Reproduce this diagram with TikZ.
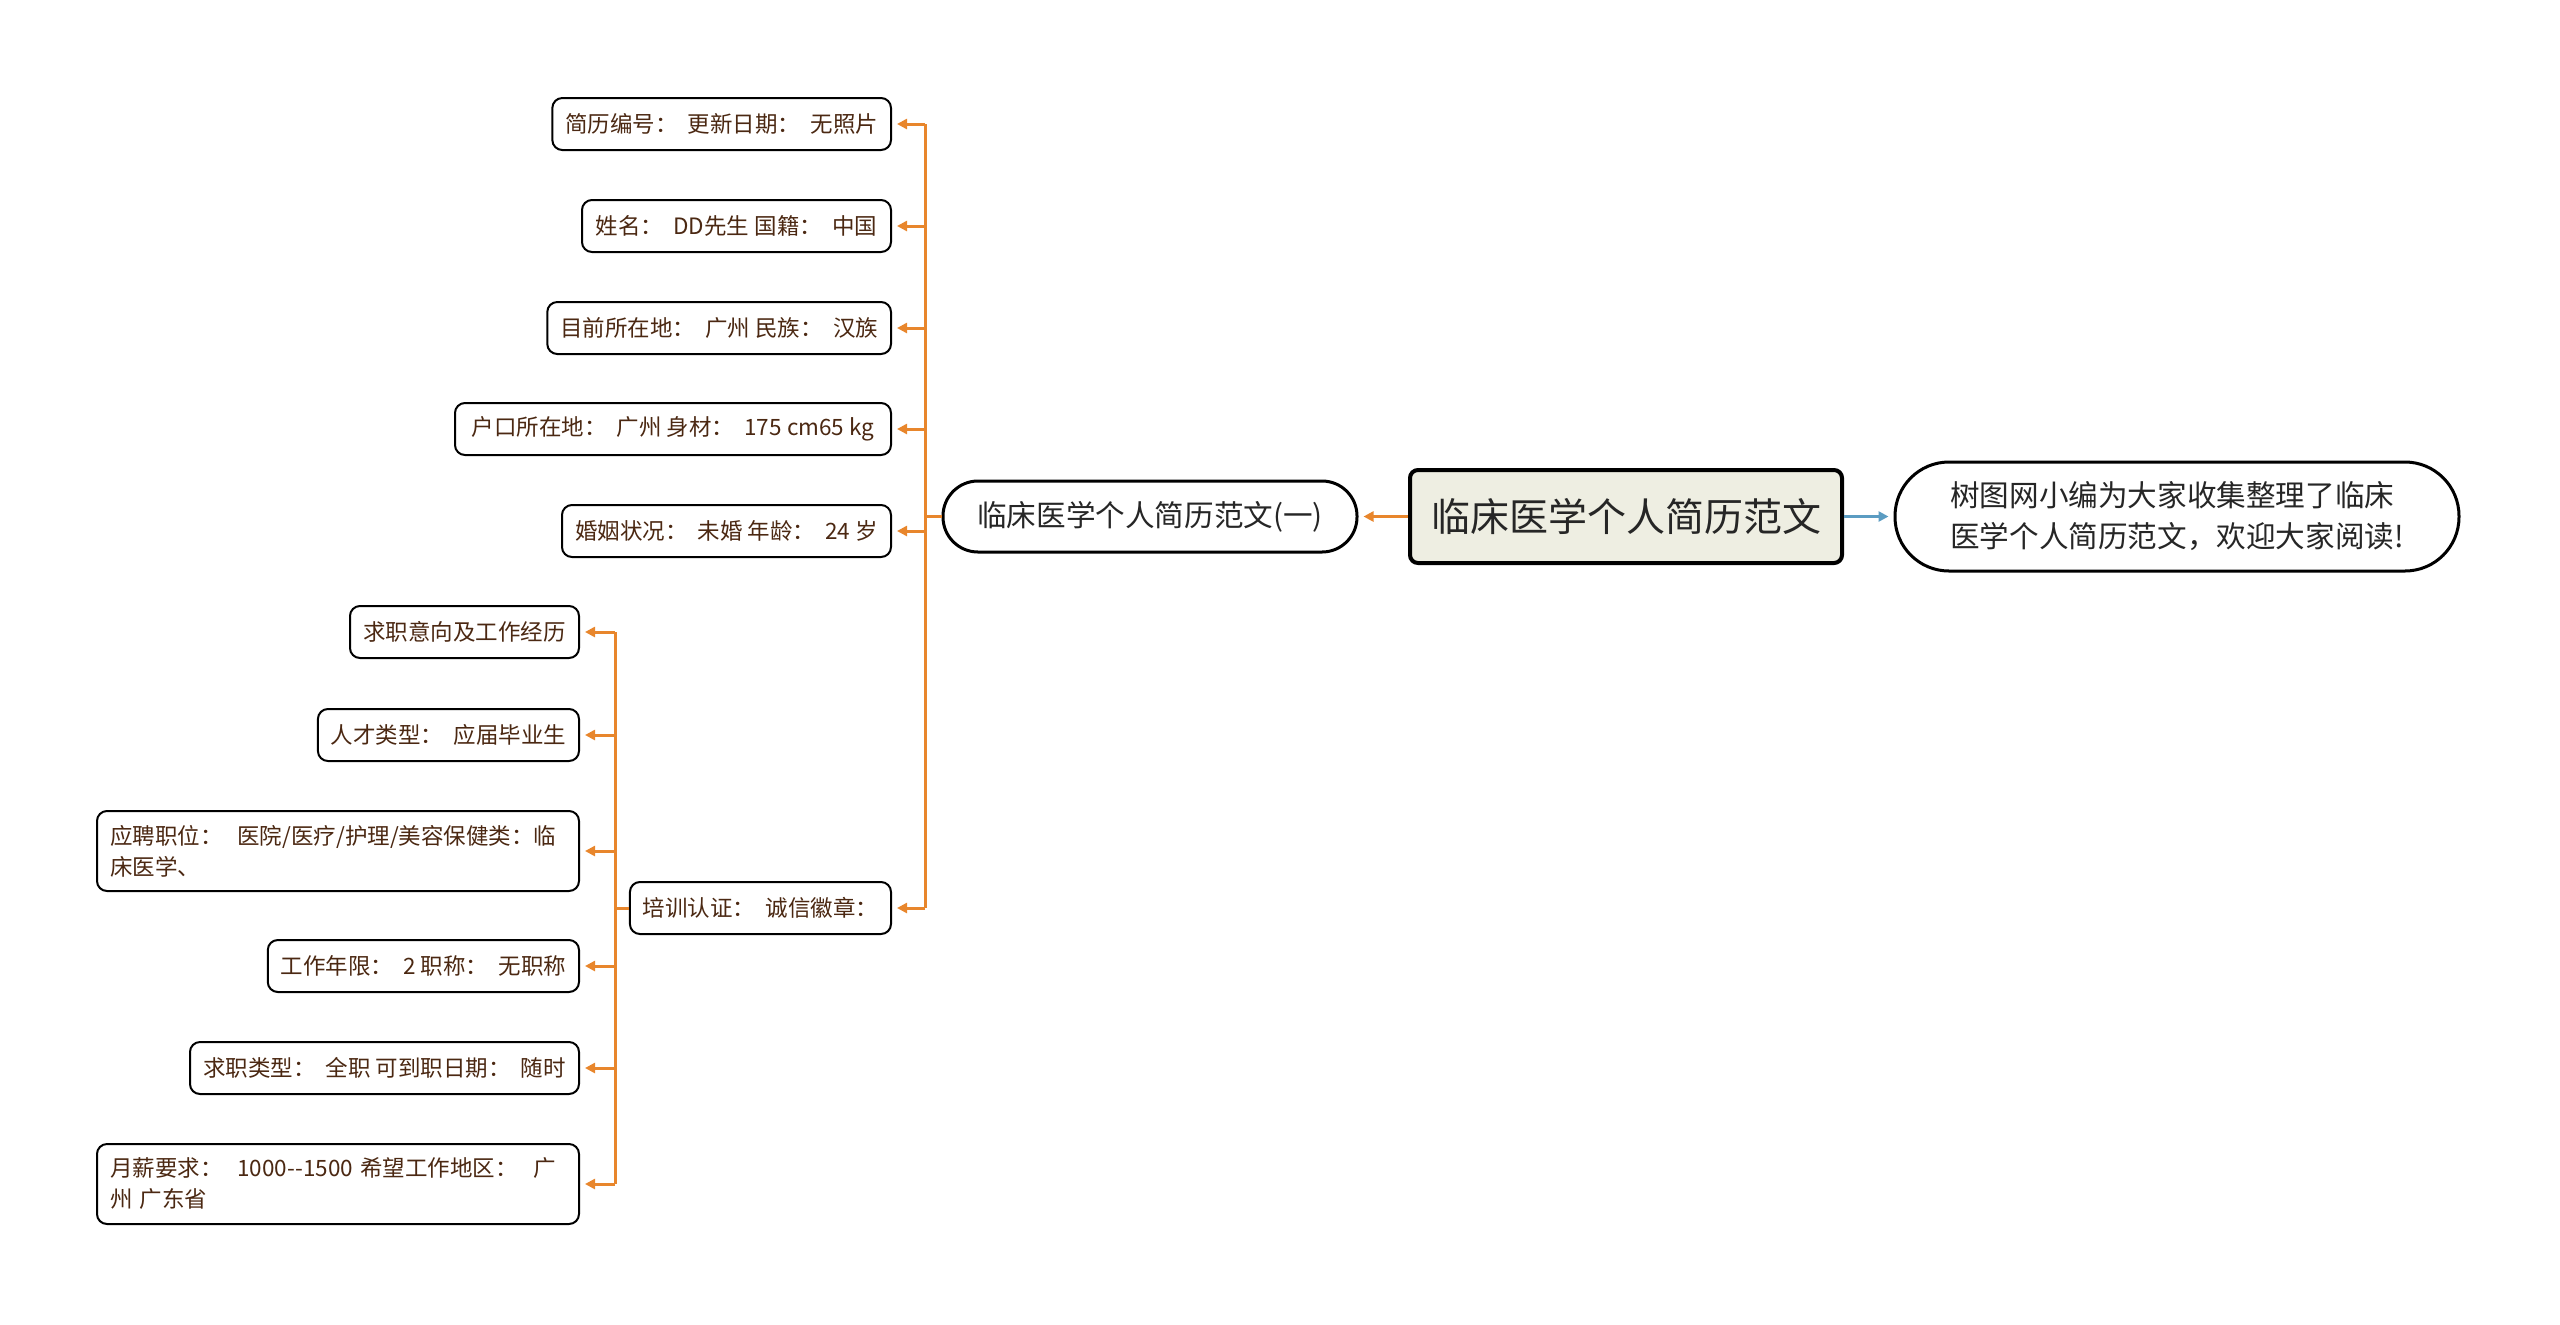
\documentclass[tikz,border=0pt]{standalone}
\usepackage{fontspec}
\setmainfont{Noto Sans CJK SC}
\usepackage{tikz}
\usetikzlibrary{arrows.meta,positioning}
\definecolor{branchorange}{HTML}{E8862C}
\definecolor{linkblue}{HTML}{5B9CC2}
\definecolor{leafbrown}{HTML}{4B2812}
\definecolor{rootfill}{HTML}{EEEEE2}
\tikzset{
  leaf/.style={draw=black,line width=1pt,rounded corners=5pt,fill=white,text=leafbrown,
    font=\fontsize{11.25}{15.5}\selectfont,minimum height=26pt,inner xsep=6.5pt,anchor=east},
  twoline/.style={leaf,align=left,text width=228pt,minimum height=40pt},
  branch/.style={draw=branchorange,line width=1.5pt},
  tip/.style={-{Triangle[length=5pt,width=5pt]},shorten >=2.5pt}
}

\begin{document}
\begin{tikzpicture}[x=0.5pt,y=-0.5pt]
    \useasboundingbox (0,0) rectangle (2560,1324);
    \node[draw=black,line width=2pt,rounded corners=4pt,fill=rootfill,minimum width=216pt,minimum height=46.5pt,
      font=\fontsize{19.5}{24}\selectfont,text=black!85] (root) at (1626,516.5) {临床医学个人简历范文};
    \node[draw=black,line width=1.5pt,rounded corners=17.5pt,fill=white,minimum width=207pt,minimum height=35.5pt,
      font=\fontsize{14.8}{18}\selectfont,text=black!85] (resume) at (1150,516.5) {临床医学个人简历范文(一)};
    \node[draw=black,line width=1.5pt,rounded corners=27pt,fill=white,minimum width=282pt,minimum height=54.5pt,
      font=\fontsize{14.8}{20.5}\selectfont,text=black!85,align=left] (intro) at (2177,516.5)
      {树图网小编为大家收集整理了临床\\医学个人简历范文，欢迎大家阅读!};
    \draw[branch,tip] (root.west) -- (resume.east);
    \draw[draw=linkblue,line width=1.5pt,tip] (root.east) -- (intro.west);

    \coordinate (trunk) at (925,516.5);
    \node[leaf,minimum width=167.5pt] (number) at (892,124) {简历编号：\ \ 更新日期：\ \ 无照片};
    \node[leaf,minimum width=154.5pt] (name) at (892,226) {姓名：\ \ DD先生 国籍：\ \ 中国};
    \node[leaf,minimum width=171.5pt] (location) at (892,328) {目前所在地：\ \ 广州 民族：\ \ 汉族};
    \node[leaf,minimum width=218pt] (hukou) at (892,429) {户口所在地：\ \ 广州 身材：\ \ 175 cm65 kg};
    \node[leaf,minimum width=164.5pt] (marriage) at (892,531) {婚姻状况：\ \ 未婚 年龄：\ \ 24 岁};
    \node[leaf,minimum width=129.5pt] (training) at (892,908) {培训认证：\ \ 诚信徽章：};
    \draw[branch] (resume.west) -- (trunk);
    \draw[branch] (number.east -| trunk) -- (training.east -| trunk);
    \foreach \leafname in {number,name,location,hukou,marriage,training}
      \draw[branch,tip] (\leafname.east -| trunk) -- (\leafname.east);

    \coordinate (subtrunk) at (615,908);
    \node[leaf,minimum width=114.5pt] (intention) at (580,632) {求职意向及工作经历};
    \node[leaf,minimum width=129pt] (talent) at (580,735) {人才类型：\ \ 应届毕业生};
    \node[twoline] (position) at (580,851) {应聘职位：\ \ 医院/医疗/护理/美容保健类：临\\床医学、};
    \node[leaf,minimum width=155.5pt] (years) at (580,966) {工作年限：\ \ 2 职称：\ \ 无职称};
    \node[leaf,minimum width=194.5pt] (jobtype) at (580,1068) {求职类型：\ \ 全职 可到职日期：\ \ 随时};
    \node[twoline] (salary) at (580,1184) {月薪要求：\ \ 1000-{}-1500 希望工作地区：\ \ 广\\州 广东省};
    \draw[branch] (training.west) -- (subtrunk);
    \draw[branch] (intention.east -| subtrunk) -- (salary.east -| subtrunk);
    \foreach \leafname in {intention,talent,position,years,jobtype,salary}
      \draw[branch,tip] (\leafname.east -| subtrunk) -- (\leafname.east);
  \end{tikzpicture}
\end{document}
